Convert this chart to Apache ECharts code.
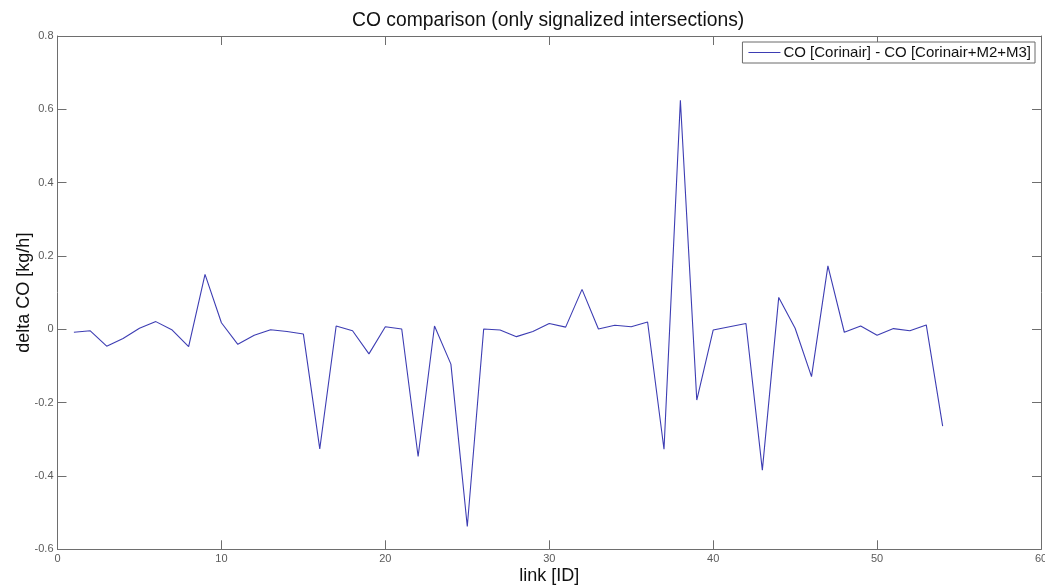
<!DOCTYPE html>
<html>
<head>
<meta charset="utf-8">
<title>CO comparison</title>
<script src="https://cdn.jsdelivr.net/npm/echarts@6/dist/echarts.min.js"></script>
<style>
  html, body { margin: 0; padding: 0; background: #fff; }
  #chart { width: 1045px; height: 588px; }
</style>
</head>
<body>
<div id="chart"></div>
<script>
// Link IDs along the x axis
const linkIds = [
  1, 2, 3, 4, 5, 6, 7, 8, 9, 10,
  11, 12, 13, 14, 15, 16, 17, 18, 19, 20,
  21, 22, 23, 24, 25, 26, 27, 28, 29, 30,
  31, 32, 33, 34, 35, 36, 37, 38, 39, 40,
  41, 42, 43, 44, 45, 46, 47, 48, 49, 50,
  51, 52, 53, 54
];

// delta CO [kg/h] = CO [Corinair] - CO [Corinair+M2+M3]
const deltaCO = [
  -0.008, -0.004, -0.046, -0.025, 0.003, 0.021, -0.002, -0.047, 0.150, 0.018,
  -0.041, -0.016, -0.001, -0.006, -0.013, -0.326, 0.009, -0.004, -0.067, 0.007,
  0.001, -0.347, 0.009, -0.095, -0.538, 0.001, -0.002, -0.020, -0.006, 0.016,
  0.006, 0.109, 0.001, 0.011, 0.007, 0.020, -0.327, 0.625, -0.193, -0.002,
  0.007, 0.016, -0.384, 0.087, 0.003, -0.129, 0.173, -0.008, 0.009, -0.016,
  0.002, -0.004, 0.012, -0.264
];

const seriesName = 'CO [Corinair] - CO [Corinair+M2+M3]';
const titleText = 'CO comparison (only signalized intersections)';
const xName = 'link [ID]';
const yName = 'delta CO [kg/h]';

const xTicks = { min: 0, max: 60, interval: 10 };
const yTicks = { min: -0.6, max: 0.8, interval: 0.2 };

const FONT = '"Liberation Sans", Arial, Helvetica, sans-serif';
const AXIS_GRAY = '#6e6e6e';
const LABEL_GRAY = '#5a5a5a';

const fmtY = v => {
  const r = Math.round(v * 10) / 10;
  return Math.abs(r) < 1e-9 ? '0' : String(r);
};

const tickInside = { show: true, inside: true, length: 9, lineStyle: { color: AXIS_GRAY, width: 1 } };
const axisLine = { show: true, onZero: false, lineStyle: { color: AXIS_GRAY, width: 1 } };

const chart = echarts.init(document.getElementById('chart'), null, { renderer: 'canvas' });

chart.setOption({
  backgroundColor: '#ffffff',
  animation: false,
  textStyle: { fontFamily: FONT },
  title: {
    text: titleText,
    left: 347,
    top: 6,
    textStyle: { fontFamily: FONT, fontSize: 19.3, fontWeight: 'normal', color: '#111' }
  },
  legend: {
    right: 10,
    top: 42,
    orient: 'horizontal',
    itemWidth: 32,
    itemHeight: 12,
    itemGap: 0,
    padding: [3, 4, 3, 6],
    borderColor: '#6a6a6a',
    borderWidth: 1,
    backgroundColor: '#ffffff',
    borderRadius: 0,
    textStyle: { fontFamily: FONT, fontSize: 15, color: '#111', padding: [0, 0, 0, -2] },
    data: [{ name: seriesName, icon: 'path://M0,0 L32,0 L32,1 L0,1 Z' }]
  },
  grid: {
    left: 57.5, right: 4, top: 36, bottom: 38.7,
    containLabel: false,
    outerBoundsMode: 'none'
  },
  xAxis: [
    {
      type: 'value',
      position: 'bottom',
      min: xTicks.min, max: xTicks.max, interval: xTicks.interval,
      name: xName,
      nameLocation: 'middle',
      nameGap: 18,
      nameMoveOverlap: false,
      nameTextStyle: { fontFamily: FONT, fontSize: 18, color: '#111', verticalAlign: 'top' },
      axisLine: axisLine,
      axisTick: tickInside,
      axisLabel: { fontFamily: FONT, fontSize: 11, color: LABEL_GRAY, margin: 4 },
      splitLine: { show: false }
    },
    {
      type: 'value',
      position: 'top',
      min: xTicks.min, max: xTicks.max, interval: xTicks.interval,
      axisLine: axisLine,
      axisTick: tickInside,
      axisLabel: { show: false },
      splitLine: { show: false }
    }
  ],
  yAxis: [
    {
      type: 'value',
      position: 'left',
      min: yTicks.min, max: yTicks.max, interval: yTicks.interval,
      name: yName,
      nameLocation: 'middle',
      nameGap: 24.5,
      nameMoveOverlap: false,
      nameRotate: 90,
      nameTextStyle: { fontFamily: FONT, fontSize: 18, color: '#111' },
      axisLine: axisLine,
      axisTick: tickInside,
      axisLabel: { fontFamily: FONT, fontSize: 11, color: LABEL_GRAY, margin: 4, formatter: fmtY },
      splitLine: { show: false }
    },
    {
      type: 'value',
      position: 'right',
      min: yTicks.min, max: yTicks.max, interval: yTicks.interval,
      axisLine: axisLine,
      axisTick: tickInside,
      axisLabel: { show: false },
      splitLine: { show: false }
    }
  ],
  series: [
    {
      name: seriesName,
      type: 'line',
      xAxisIndex: 0,
      yAxisIndex: 0,
      symbol: 'none',
      showSymbol: false,
      lineStyle: { color: '#3d3db3', width: 1.1 },
      itemStyle: { color: '#3d3db3' },
      data: linkIds.map((id, i) => [id, deltaCO[i]])
    }
  ]
});
</script>
</body>
</html>
